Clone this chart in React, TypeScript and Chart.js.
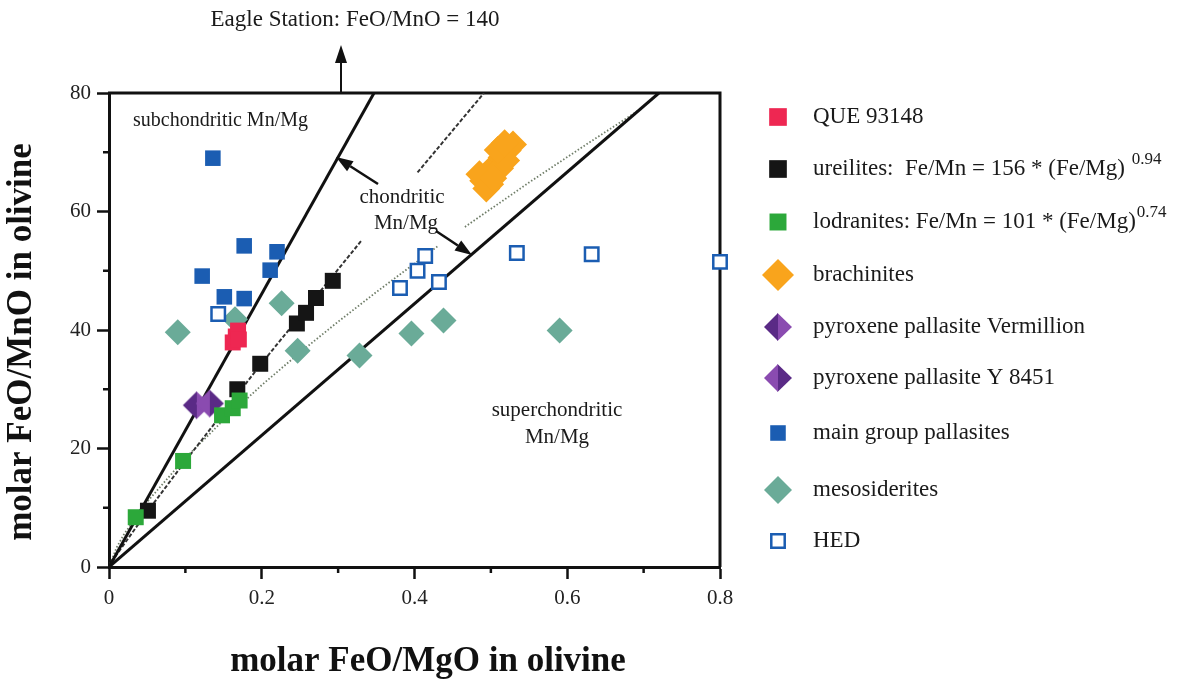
import React, { useEffect, useRef } from 'react';
import { Chart, registerables } from 'chart.js';

Chart.register(...registerables);

const SERIF = '"Liberation Serif", "Times New Roman", serif';

// ---------- data ----------
const QUE_X = [0.162, 0.166, 0.169, 0.170];
const QUE_Y = [37.9, 38.9, 39.9, 38.4];

const UREILITE_X = [0.051, 0.168, 0.198, 0.246, 0.258, 0.271, 0.293];
const UREILITE_Y = [9.5, 30.0, 34.3, 41.1, 42.9, 45.4, 48.3];

const LODRANITE_X = [0.035, 0.097, 0.148, 0.162, 0.171];
const LODRANITE_Y = [8.4, 17.9, 25.6, 26.8, 28.1];

const BRACHINITE_X = [0.49, 0.499, 0.507, 0.514, 0.522, 0.529, 0.499, 0.485, 0.512, 0.52, 0.509, 0.518, 0.494, 0.503];
const BRACHINITE_Y = [65.2, 66.6, 68.0, 69.1, 70.3, 71.3, 64.6, 66.3, 67.3, 68.6, 70.4, 71.5, 63.9, 65.6];

const VERMILLION_X = [0.115];
const VERMILLION_Y = [27.3];

const Y8451_X = [0.132];
const Y8451_Y = [27.6];

const MAIN_GROUP_X = [0.136, 0.122, 0.177, 0.22, 0.211, 0.151, 0.177];
const MAIN_GROUP_Y = [69.0, 49.1, 54.2, 53.2, 50.1, 45.6, 45.3];

const MESO_X = [0.09, 0.165, 0.226, 0.247, 0.328, 0.396, 0.438, 0.59];
const MESO_Y = [39.6, 41.8, 44.5, 36.5, 35.7, 39.4, 41.6, 39.9];

const HED_X = [0.143, 0.381, 0.404, 0.414, 0.432, 0.534, 0.632, 0.8];
const HED_Y = [42.7, 47.1, 50.0, 52.5, 48.1, 53.0, 52.8, 51.5];

// reference lines
const CHONDRITIC_UPPER_X = [0, 0.347];
const CHONDRITIC_UPPER_Y = [0, 80];
const CHONDRITIC_LOWER_X = [0, 0.72];
const CHONDRITIC_LOWER_Y = [0, 80];

// ureilite fit (Fe/Mn = 156*(Fe/Mg)^0.94), two segments
const UREILITE_FIT_A_X = [0, 0.01, 0.05, 0.1, 0.2, 0.33];
const UREILITE_FIT_A_Y = [0, 2.1, 9.3, 17.9, 34.4, 55.0];
const UREILITE_FIT_B_X = [0.404, 0.491];
const UREILITE_FIT_B_Y = [66.6, 80];

// lodranite fit (Fe/Mn = 101*(Fe/Mg)^0.74), two segments
const LODRANITE_FIT_A_X = [0, 0.01, 0.02, 0.05, 0.1, 0.15, 0.2, 0.25, 0.3, 0.35, 0.43];
const LODRANITE_FIT_A_Y = [0, 3.3, 5.6, 11.0, 18.4, 24.8, 30.7, 36.2, 41.4, 46.4, 54.1];
const LODRANITE_FIT_B_X = [0.466, 0.55, 0.62, 0.695];
const LODRANITE_FIT_B_Y = [57.4, 64.9, 70.9, 77.2];

const X_MINOR_TICKS = [0.1, 0.3, 0.5, 0.7];
const Y_MINOR_TICKS = [10, 30, 50, 70];

const LEGEND_LABELS = [
  'QUE 93148',
  'ureilites:  Fe/Mn = 156 * (Fe/Mg) ',
  'lodranites: Fe/Mn = 101 * (Fe/Mg)',
  'brachinites',
  'pyroxene pallasite Vermillion',
  'pyroxene pallasite Y 8451',
  'main group pallasites',
  'mesosiderites',
  'HED',
];
const LEGEND_SUPERSCRIPTS = ['', '0.94', '0.74', '', '', '', '', '', ''];

const X_TITLE = 'molar FeO/MgO in olivine';
const Y_TITLE = 'molar FeO/MnO in olivine';

// ---------- styles ----------
const C_RED = '#ee2752';
const C_BLACK = '#151515';
const C_GREEN = '#2ca83a';
const C_ORANGE = '#f9a41c';
const C_PURPLE_DARK = '#5a2a86';
const C_PURPLE_LIGHT = '#8a4bb0';
const C_BLUE = '#1b5db2';
const C_TEAL = '#6aab98';

const pts = (xs: number[], ys: number[]) => xs.map((x, i) => ({ x, y: ys[i] }));

function diamondCanvas(r: number, left: string, right: string) {
  const c = document.createElement('canvas');
  const s = Math.ceil(2 * r + 2);
  c.width = s;
  c.height = s;
  const g = c.getContext('2d') as CanvasRenderingContext2D;
  const cx = s / 2;
  const cy = s / 2;
  g.fillStyle = right;
  g.beginPath();
  g.moveTo(cx - 0.5, cy - r);
  g.lineTo(cx + r, cy);
  g.lineTo(cx - 0.5, cy + r);
  g.closePath();
  g.fill();
  g.fillStyle = left;
  g.beginPath();
  g.moveTo(cx, cy - r);
  g.lineTo(cx - r, cy);
  g.lineTo(cx, cy + r);
  g.closePath();
  g.fill();
  return c;
}

function drawArrow(ctx: CanvasRenderingContext2D, x1: number, y1: number, x2: number, y2: number, head: number, halfW: number, lw: number) {
  const dx = x2 - x1;
  const dy = y2 - y1;
  const len = Math.hypot(dx, dy);
  const ux = dx / len;
  const uy = dy / len;
  const bx = x2 - ux * head;
  const by = y2 - uy * head;
  ctx.save();
  ctx.strokeStyle = '#111';
  ctx.fillStyle = '#111';
  ctx.lineWidth = lw;
  ctx.beginPath();
  ctx.moveTo(x1, y1);
  ctx.lineTo(bx, by);
  ctx.stroke();
  ctx.beginPath();
  ctx.moveTo(x2, y2);
  ctx.lineTo(bx - uy * halfW, by + ux * halfW);
  ctx.lineTo(bx + uy * halfW, by - ux * halfW);
  ctx.closePath();
  ctx.fill();
  ctx.restore();
}

function drawMarker(ctx: CanvasRenderingContext2D, style: any, x: number, y: number, r: number, fill: string, stroke: string, bw: number) {
  ctx.save();
  if (style instanceof HTMLCanvasElement) {
    ctx.drawImage(style, x - style.width / 2, y - style.height / 2);
    ctx.restore();
    return;
  }
  ctx.beginPath();
  if (style === 'rect') {
    const h = Math.SQRT1_2 * r;
    ctx.rect(x - h, y - h, 2 * h, 2 * h);
  } else {
    ctx.moveTo(x - r, y);
    ctx.lineTo(x, y - r);
    ctx.lineTo(x + r, y);
    ctx.lineTo(x, y + r);
    ctx.closePath();
  }
  ctx.fillStyle = fill;
  ctx.fill();
  if (bw > 0) {
    ctx.lineWidth = bw;
    ctx.strokeStyle = stroke;
    ctx.stroke();
  }
  ctx.restore();
}

export default function App() {
  const ref = useRef<HTMLCanvasElement | null>(null);

  useEffect(() => {
    const canvas = ref.current;
    if (!canvas) return;

    const vermImg = diamondCanvas(14, C_PURPLE_DARK, C_PURPLE_LIGHT);
    const y84Img = diamondCanvas(14, C_PURPLE_LIGHT, C_PURPLE_DARK);

    const pointDs = (label: string, data: any[], style: any, r: number, fill: string, stroke: string, bw: number, order: number) => ({
      label,
      data,
      pointStyle: style,
      pointRadius: r,
      pointHoverRadius: r,
      backgroundColor: fill,
      borderColor: stroke,
      borderWidth: bw,
      showLine: false,
      clip: false,
      order,
    });

    const lineDs = (data: any[], color: string, width: number, dash: number[]) => ({
      data,
      showLine: true,
      pointRadius: 0,
      pointHoverRadius: 0,
      borderColor: color,
      backgroundColor: color,
      borderWidth: width,
      borderDash: dash,
      fill: false,
      tension: 0,
      order: 50,
    });

    const legendMarkers: any[] = [
      { style: 'rect', r: 12.5, fill: C_RED, stroke: C_RED, bw: 0 },
      { style: 'rect', r: 12.5, fill: C_BLACK, stroke: C_BLACK, bw: 0 },
      { style: 'rect', r: 12, fill: C_GREEN, stroke: C_GREEN, bw: 0 },
      { style: 'rectRot', r: 16, fill: C_ORANGE, stroke: C_ORANGE, bw: 0 },
      { style: vermImg, r: 14, fill: '', stroke: '', bw: 0 },
      { style: y84Img, r: 14, fill: '', stroke: '', bw: 0 },
      { style: 'rect', r: 11, fill: C_BLUE, stroke: C_BLUE, bw: 0 },
      { style: 'rectRot', r: 14, fill: C_TEAL, stroke: C_TEAL, bw: 0 },
      { style: 'rect', r: 9.5, fill: '#fff', stroke: C_BLUE, bw: 2.5 },
    ];
    const legendRowY = [117, 169, 222, 275, 327, 378, 433, 490, 541];

    const decor = {
      id: 'decor',
      beforeDatasetsDraw(chart: any) {
        const ctx: CanvasRenderingContext2D = chart.ctx;
        const a = chart.chartArea;
        const xs = chart.scales.x;
        const ys = chart.scales.y;
        ctx.save();
        ctx.strokeStyle = '#111';
        ctx.lineWidth = 3;
        ctx.beginPath();
        ctx.moveTo(a.left - 1, a.top);
        ctx.lineTo(a.right, a.top);
        ctx.lineTo(a.right, a.bottom);
        ctx.stroke();
        ctx.lineWidth = 2.5;
        for (const v of X_MINOR_TICKS) {
          const p = xs.getPixelForValue(v);
          ctx.beginPath();
          ctx.moveTo(p, a.bottom);
          ctx.lineTo(p, a.bottom + 6);
          ctx.stroke();
        }
        for (const v of Y_MINOR_TICKS) {
          const p = ys.getPixelForValue(v);
          ctx.beginPath();
          ctx.moveTo(a.left, p);
          ctx.lineTo(a.left - 6, p);
          ctx.stroke();
        }
        ctx.restore();
      },
      afterDraw(chart: any) {
        const ctx: CanvasRenderingContext2D = chart.ctx;
        ctx.save();
        ctx.fillStyle = '#1a1a1a';
        ctx.textBaseline = 'middle';

        // annotations
        ctx.font = `20px ${SERIF}`;
        ctx.textAlign = 'left';
        ctx.fillText('subchondritic Mn/Mg', 133, 121);
        ctx.font = `21px ${SERIF}`;
        ctx.textAlign = 'center';
        ctx.fillText('chondritic', 402, 197);
        ctx.fillText('Mn/Mg', 406, 223);
        ctx.fillText('superchondritic', 557, 410);
        ctx.fillText('Mn/Mg', 557, 437);
        ctx.font = `23px ${SERIF}`;
        ctx.fillText('Eagle Station: FeO/MnO = 140', 355, 20);

        drawArrow(ctx, 341, 92, 341, 45, 18, 6, 2);
        drawArrow(ctx, 378, 184, 336, 157, 17, 6, 2.5);
        drawArrow(ctx, 436, 231, 472, 255, 17, 6, 2.5);

        // axis titles
        ctx.fillStyle = '#111';
        ctx.font = `bold 35px ${SERIF}`;
        ctx.textAlign = 'center';
        ctx.fillText(X_TITLE, 428, 662);
        ctx.save();
        ctx.translate(22, 342);
        ctx.rotate(-Math.PI / 2);
        ctx.fillText(Y_TITLE, 0, 0);
        ctx.restore();

        // legend
        ctx.fillStyle = '#1a1a1a';
        ctx.textAlign = 'left';
        LEGEND_LABELS.forEach((label, i) => {
          const y = legendRowY[i];
          const m = legendMarkers[i];
          drawMarker(ctx, m.style, 778, y, m.r, m.fill, m.stroke, m.bw);
          ctx.font = `23px ${SERIF}`;
          ctx.fillText(label, 813, y);
          const sup = LEGEND_SUPERSCRIPTS[i];
          if (sup) {
            const w = ctx.measureText(label).width;
            ctx.font = `17px ${SERIF}`;
            ctx.fillText(sup, 813 + w + 1, y - 9);
          }
        });
        ctx.restore();
      },
    };

    const chart = new Chart(canvas, {
      type: 'scatter',
      data: {
        datasets: [
          pointDs('QUE 93148', pts(QUE_X, QUE_Y), 'rect', 11.3, C_RED, C_RED, 0, 1),
          pointDs('lodranites', pts(LODRANITE_X, LODRANITE_Y), 'rect', 11.3, C_GREEN, C_GREEN, 0, 2),
          pointDs('ureilites', pts(UREILITE_X, UREILITE_Y), 'rect', 11.3, C_BLACK, C_BLACK, 0, 3),
          pointDs('pyroxene pallasite Y 8451', pts(Y8451_X, Y8451_Y), y84Img, 14, C_PURPLE_DARK, C_PURPLE_DARK, 0, 4),
          pointDs('pyroxene pallasite Vermillion', pts(VERMILLION_X, VERMILLION_Y), vermImg, 14, C_PURPLE_DARK, C_PURPLE_DARK, 0, 5),
          pointDs('main group pallasites', pts(MAIN_GROUP_X, MAIN_GROUP_Y), 'rect', 11, C_BLUE, C_BLUE, 0, 6),
          pointDs('HED', pts(HED_X, HED_Y), 'rect', 9.5, '#ffffff', C_BLUE, 2.5, 7),
          pointDs('mesosiderites', pts(MESO_X, MESO_Y), 'rectRot', 13, C_TEAL, C_TEAL, 0, 8),
          pointDs('brachinites', pts(BRACHINITE_X, BRACHINITE_Y), 'rectRot', 14, C_ORANGE, C_ORANGE, 0, 9),
          lineDs(pts(CHONDRITIC_UPPER_X, CHONDRITIC_UPPER_Y), '#111', 3, []),
          lineDs(pts(CHONDRITIC_LOWER_X, CHONDRITIC_LOWER_Y), '#111', 3, []),
          lineDs(pts(UREILITE_FIT_A_X, UREILITE_FIT_A_Y), '#333333', 2, [4, 2]),
          lineDs(pts(UREILITE_FIT_B_X, UREILITE_FIT_B_Y), '#333333', 2, [4, 2]),
          lineDs(pts(LODRANITE_FIT_A_X, LODRANITE_FIT_A_Y), '#6f7d68', 1.8, [1.5, 2]),
          lineDs(pts(LODRANITE_FIT_B_X, LODRANITE_FIT_B_Y), '#6f7d68', 1.8, [1.5, 2]),
        ] as any,
      },
      options: {
        animation: false,
        responsive: false,
        devicePixelRatio: 1,
        events: [],
        layout: { padding: { left: 0, top: 93, right: 470, bottom: 0 } },
        plugins: {
          legend: { display: false },
          tooltip: { enabled: false },
          title: { display: false },
        },
        scales: {
          x: {
            type: 'linear',
            min: 0,
            max: 0.8,
            afterFit: (s: any) => {
              s.height = 117;
            },
            border: { display: true, color: '#111', width: 3 },
            grid: {
              drawOnChartArea: false,
              drawTicks: true,
              tickLength: 12,
              tickWidth: 2.5,
              tickColor: (c: any) => (Math.round(c.tick.value * 10) % 2 === 0 ? '#111' : 'rgba(0,0,0,0)'),
            },
            ticks: {
              stepSize: 0.1,
              autoSkip: false,
              maxRotation: 0,
              padding: 7,
              color: '#222',
              font: { family: SERIF, size: 21 },
              callback: (v: any) => {
                const k = Math.round(Number(v) * 10);
                if (k % 2 !== 0) return '';
                return k === 0 ? '0' : (k / 10).toFixed(1);
              },
            },
          },
          y: {
            type: 'linear',
            min: 0,
            max: 80,
            afterFit: (s: any) => {
              s.width = 109;
            },
            border: { display: true, color: '#111', width: 3 },
            grid: {
              drawOnChartArea: false,
              drawTicks: true,
              tickLength: 12,
              tickWidth: 2.5,
              tickColor: (c: any) => (Math.round(c.tick.value) % 20 === 0 ? '#111' : 'rgba(0,0,0,0)'),
            },
            ticks: {
              stepSize: 10,
              autoSkip: false,
              padding: 6,
              color: '#222',
              font: { family: SERIF, size: 21 },
              callback: (v: any) => (Math.round(Number(v)) % 20 === 0 ? String(Math.round(Number(v))) : ''),
            },
          },
        },
      },
      plugins: [decor],
    } as any);

    return () => {
      chart.destroy();
    };
  }, []);

  return (
    <canvas
      ref={ref}
      width={1190}
      height={684}
      style={{ position: 'absolute', left: 0, top: 0, display: 'block' }}
    />
  );
}
